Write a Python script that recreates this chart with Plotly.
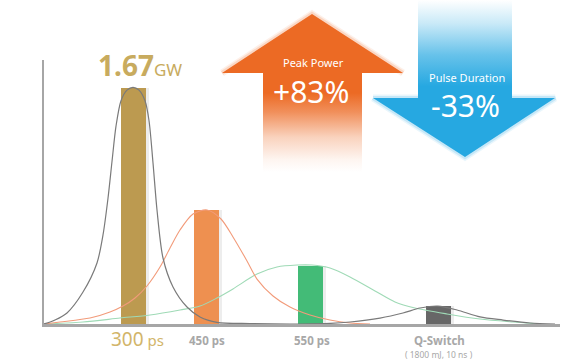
import plotly.graph_objects as go

W, H = 571, 359

# ---------------- data ----------------
categories = ["300 ps", "450 ps", "550 ps", "Q-Switch"]
bar_pos = [133, 206, 310.5, 438]          # position along the x axis
bar_vals = [1.67, 0.807, 0.41, 0.124]      # GW
bar_colors = ["#BC9A50", "#EE9050", "#43BB77", "#676767"]

# pulse-shape curves (x position, GW)
gray_x = [44, 55, 67, 83, 97, 103, 108, 112, 116, 121, 127, 133, 139, 145, 149, 153,
          157, 163, 173, 187, 200, 217, 250, 300, 330, 350, 380, 403, 420, 438, 457,
          480, 503, 530, 555]
gray_y = [0, 0.028, 0.078, 0.226, 0.432, 0.630, 0.890, 1.150, 1.400, 1.580, 1.655, 1.675,
          1.655, 1.580, 1.440, 1.140, 0.807, 0.467, 0.262, 0.120, 0.050, 0.012, 0.003, 0.0,
          0.004, 0.014, 0.042, 0.078, 0.113, 0.127, 0.099, 0.050, 0.028, 0.007, 0.0]

red_x = [44, 60, 90, 110, 123, 135, 147, 160, 170, 180, 193, 207, 221, 233, 247, 257,
         273, 290, 310, 330, 350, 370]
red_y = [0, 0.014, 0.042, 0.085, 0.127, 0.184, 0.269, 0.403, 0.538, 0.665, 0.778, 0.807,
         0.743, 0.616, 0.446, 0.318, 0.198, 0.120, 0.064, 0.028, 0.007, 0.0]

green_x = [44, 83, 120, 150, 180, 200, 217, 233, 257, 277, 297, 312, 330, 350, 375, 395,
           415, 447, 480, 513, 540]
green_y = [0, 0.014, 0.042, 0.064, 0.099, 0.127, 0.184, 0.248, 0.354, 0.403, 0.417, 0.417,
           0.396, 0.333, 0.234, 0.156, 0.113, 0.071, 0.035, 0.014, 0.0]

peak_label = "1.67"
peak_power_change = "+83%"
pulse_duration_change = "-33%"

# ---------------- figure ----------------
fig = go.Figure()

# bar shadows
fig.add_trace(go.Bar(x=[p + 3 for p in bar_pos], y=bar_vals, width=25,
                     marker=dict(color="rgba(0,0,0,0.07)", line=dict(width=0)),
                     hoverinfo="skip", showlegend=False))
# bars
fig.add_trace(go.Bar(x=bar_pos, y=bar_vals, width=25,
                     marker=dict(color=bar_colors, line=dict(width=0)),
                     showlegend=False))

fig.add_trace(go.Scatter(x=green_x, y=green_y, mode="lines",
                         line=dict(color="#9FDAB6", width=1.1, shape="spline", smoothing=0.8),
                         showlegend=False))
fig.add_trace(go.Scatter(x=red_x, y=red_y, mode="lines",
                         line=dict(color="#F29B7A", width=1.1, shape="spline", smoothing=0.8),
                         showlegend=False))
fig.add_trace(go.Scatter(x=gray_x, y=gray_y, mode="lines",
                         line=dict(color="#7A7A7A", width=1.2, shape="spline", smoothing=0.8),
                         showlegend=False))

# ---------------- decorative arrows (overlay pixel axes) ----------------
orange = "236,106,36"
blue = "38,168,225"
up_x = [312, 403, 362, 362, 263, 263, 222, 312]
up_y = [14, 73, 73, 172, 172, 73, 73, 14]
down_x = [418, 512, 512, 555, 465, 373, 418, 418]
down_y = [0, 0, 98, 98, 157, 98, 98, 0]

# soft glow around heads
for wdt, a in [(7, 0.10), (4, 0.18)]:
    fig.add_trace(go.Scatter(x=[222, 312, 403], y=[73, 14, 73], mode="lines",
                             line=dict(color=f"rgba({orange},{a})", width=wdt),
                             xaxis="x2", yaxis="y2", hoverinfo="skip", showlegend=False))
    fig.add_trace(go.Scatter(x=[373, 465, 555, 373], y=[98, 157, 98, 98], mode="lines",
                             line=dict(color=f"rgba({blue},{a})", width=wdt),
                             xaxis="x2", yaxis="y2", hoverinfo="skip", showlegend=False))

fig.add_trace(go.Scatter(
    x=up_x, y=up_y, mode="lines", fill="toself", line=dict(width=0),
    fillgradient=dict(type="vertical", start=14, stop=172,
                      colorscale=[[0, f"rgba({orange},1)"], [0.5, f"rgba({orange},1)"],
                                  [0.62, f"rgba({orange},0.75)"], [0.78, f"rgba({orange},0.3)"],
                                  [0.92, f"rgba({orange},0.07)"], [1, f"rgba({orange},0)"]]),
    xaxis="x2", yaxis="y2", hoverinfo="skip", showlegend=False))
fig.add_trace(go.Scatter(
    x=down_x, y=down_y, mode="lines", fill="toself", line=dict(width=0),
    fillgradient=dict(type="vertical", start=0, stop=157,
                      colorscale=[[0, f"rgba({blue},0)"], [0.15, f"rgba({blue},0.25)"],
                                  [0.35, f"rgba({blue},0.7)"], [0.55, f"rgba({blue},1)"],
                                  [1, f"rgba({blue},1)"]]),
    xaxis="x2", yaxis="y2", hoverinfo="skip", showlegend=False))

font = "Noto Sans"
ann = []
ann.append(dict(text="Peak Power", x=313, y=62, xref="x2", yref="y2", showarrow=False,
                font=dict(family=font, size=11, color="white")))
ann.append(dict(text=peak_power_change, x=311, y=91, xref="x2", yref="y2", showarrow=False,
                font=dict(family=font, size=30, color="white")))
ann.append(dict(text="Pulse Duration", x=467, y=77, xref="x2", yref="y2", showarrow=False,
                font=dict(family=font, size=11, color="white")))
ann.append(dict(text=pulse_duration_change, x=465, y=105, xref="x2", yref="y2", showarrow=False,
                font=dict(family=font, size=30, color="white")))
ann.append(dict(text=f"<b>{peak_label}</b><span style='font-size:17px'>GW</span>",
                x=bar_pos[0] + 7, y=65, xref="x", yref="y2", showarrow=False,
                font=dict(family=font, size=28, color="#C8AB5E")))

# category labels
ann.append(dict(text="300<span style='font-size:15px'> ps</span>", x=bar_pos[0] + 4, y=339,
                xref="x", yref="y2", showarrow=False,
                font=dict(family=font, size=19, color="#D2B56A")))
for i in (1, 2, 3):
    ann.append(dict(text=f"<b>{categories[i]}</b>", x=bar_pos[i] + 1, y=340, xref="x", yref="y2",
                    showarrow=False, font=dict(family=font, size=11.5, color="#A8A8A8")))
ann.append(dict(text="( 1800 mJ, 10 ns )", x=bar_pos[3] + 1, y=354, xref="x", yref="y2",
                showarrow=False, font=dict(family=font, size=8.5, color="#A8A8A8")))

fig.update_layout(
    width=W, height=H, margin=dict(l=0, r=0, t=0, b=0),
    paper_bgcolor="white", plot_bgcolor="rgba(0,0,0,0)",
    barmode="overlay", bargap=0,
    xaxis=dict(domain=[44 / W, 560 / W], range=[44, 560], showgrid=False, zeroline=False,
               showticklabels=False, ticks="", showline=True, linecolor="#A6A6A6", linewidth=2.5,
               fixedrange=True),
    yaxis=dict(domain=[35 / H, 299 / H], range=[0, 1.868], showgrid=False, zeroline=False,
               showticklabels=False, ticks="", showline=True, linecolor="#A6A6A6", linewidth=2,
               fixedrange=True),
    xaxis2=dict(domain=[0, 1], range=[0, W], anchor="y2", visible=False, fixedrange=True),
    yaxis2=dict(domain=[0, 1], range=[H, 0], anchor="x2", visible=False, fixedrange=True),
    annotations=ann,
)

fig.write_html("out.html")
